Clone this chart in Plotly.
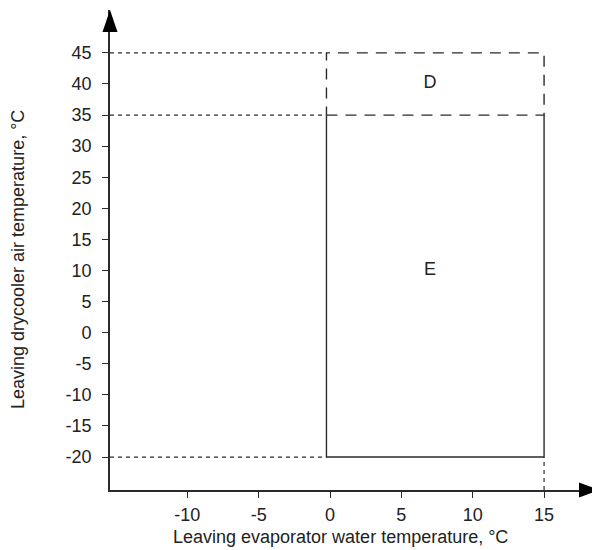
import plotly.graph_objects as go

# ---- data ----
x_ticks = [-10, -5, 0, 5, 10, 15]
x_tick_labels = ["-10", "-5", "0", "5", "10", "15"]
y_ticks = [-20, -15, -10, -5, 0, 5, 10, 15, 20, 25, 30, 35, 40, 45]
y_tick_labels = [str(v) for v in y_ticks]

x_range = [-15.42, 18.92]
y_range = [-25.3, 51.9]

# zone E (solid outline, top edge shared with D)
e_x = [-0.25, -0.25, 15, 15]
e_y = [35, -20, -20, 35]
# zone D (long-dashed rectangle)
d_x = [-0.25, 15, 15, -0.25, -0.25]
d_y = [35, 35, 45, 45, 35]
# short-dashed guide lines
guide_levels = [45, 35, -20]
guide_x_end = -0.25
vert_guide_x = 15
vert_guide_y = [-25.3, -20]

zone_labels = ["D", "E"]
zone_label_x = [7, 7]
zone_label_y = [40, 10]

line_col = "#2b2b2b"
text_col = "#222222"
font_family = "Liberation Sans, Arial, sans-serif"
FS = 18

# page body has an 8px default margin -> compensate
OFF = 8
PLOT_W, PLOT_H = 490, 480

fig = go.Figure()

fig.add_trace(go.Scatter(x=e_x, y=e_y, mode="lines",
                         line=dict(color=line_col, width=1.4), hoverinfo="skip"))
fig.add_trace(go.Scatter(x=d_x, y=d_y, mode="lines",
                         line=dict(color=line_col, width=1.4, dash="11px,8px"), hoverinfo="skip"))
for lv in guide_levels:
    fig.add_trace(go.Scatter(x=[x_range[0], guide_x_end], y=[lv, lv], mode="lines",
                             line=dict(color=line_col, width=1.2, dash="4px,4px"), hoverinfo="skip"))
fig.add_trace(go.Scatter(x=[vert_guide_x, vert_guide_x], y=vert_guide_y, mode="lines",
                         line=dict(color=line_col, width=1.2, dash="4px,4px"), hoverinfo="skip"))

fig.add_trace(go.Scatter(x=zone_label_x, y=zone_label_y, mode="text", text=zone_labels,
                         textfont=dict(size=FS, color=text_col, family=font_family),
                         hoverinfo="skip"))

# arrowheads in paper coordinates (not clipped)
px = 1.0 / PLOT_W
py = 1.0 / PLOT_H
fig.add_shape(type="path", xref="paper", yref="paper",
              path=(f"M {1.0} {0.0} L {1.0 - 21 * px} {7.5 * py} "
                    f"L {1.0 - 21 * px} {-7.5 * py} Z"),
              fillcolor="#000000", line=dict(width=0))
fig.add_shape(type="path", xref="paper", yref="paper",
              path=(f"M {0.0} {1.0} L {-7.5 * px} {1.0 - 22 * py} "
                    f"L {7.5 * px} {1.0 - 22 * py} Z"),
              fillcolor="#000000", line=dict(width=0))

fig.add_annotation(text="Leaving evaporator water temperature, °C", xref="paper", yref="paper",
                   x=(340 - 110) / PLOT_W, y=-(537 - 490) / PLOT_H, showarrow=False,
                   xanchor="center", yanchor="middle",
                   font=dict(size=FS, color=text_col, family=font_family))
fig.add_annotation(text="Leaving drycooler air temperature, °C", xref="paper", yref="paper",
                   x=-(110 - 18) / PLOT_W, y=(490 - 260) / PLOT_H, showarrow=False, textangle=-90,
                   xanchor="center", yanchor="middle",
                   font=dict(size=FS, color=text_col, family=font_family))

axis_common = dict(showgrid=False, zeroline=False, showline=True, linecolor=line_col,
                   linewidth=1.6, ticks="outside", ticklen=6, tickwidth=1.2, tickcolor=line_col,
                   tickfont=dict(size=FS, color=text_col, family=font_family), fixedrange=True,
                   automargin=False)

fig.update_layout(
    width=600 - OFF, height=550 - OFF,
    margin=dict(l=110 - OFF, r=0, t=10 - OFF, b=550 - OFF - (10 - OFF) - PLOT_H, pad=0),
    plot_bgcolor="white", paper_bgcolor="white",
    showlegend=False,
    xaxis=dict(range=x_range, tickmode="array", tickvals=x_ticks, ticktext=x_tick_labels,
               ticklabelstandoff=2, **axis_common),
    yaxis=dict(range=y_range, tickmode="array", tickvals=y_ticks, ticktext=y_tick_labels,
               ticklabelstandoff=7, **axis_common),
)

fig.write_html("out.html")
